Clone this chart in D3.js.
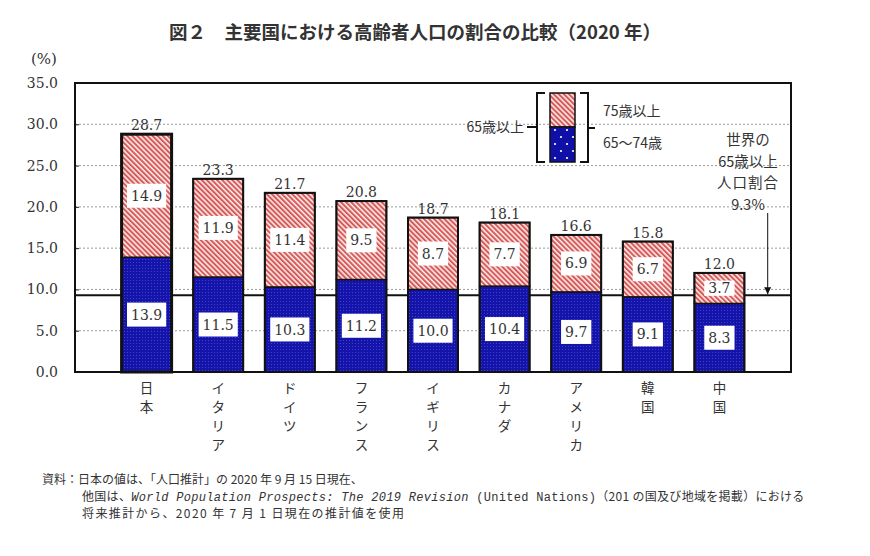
<!DOCTYPE html>
<html>
<head>
<meta charset="utf-8">
<style>
  body { margin: 0; background: #fff; }
  svg text { fill: #222; }
  .jp { font-family: "Noto Sans CJK JP", sans-serif; }
  .num { font-family: "DejaVu Serif", serif; }
  .mono { font-family: "Liberation Mono", "DejaVu Sans Mono", monospace; }
</style>
</head>
<body>
<svg width="870" height="556"></svg>
<script src="https://cdn.jsdelivr.net/npm/d3@7"></script>
<script>

// data (%)
var countries = ["日本", "イタリア", "ドイツ", "フランス", "イギリス", "カナダ", "アメリカ", "韓国", "中国"];
var age65to74 = [13.9, 11.5, 10.3, 11.2, 10.0, 10.4, 9.7, 9.1, 8.3];
var age75plus = [14.9, 11.9, 11.4, 9.5, 8.7, 7.7, 6.9, 6.7, 3.7];
var totals = [28.7, 23.3, 21.7, 20.8, 18.7, 18.1, 16.6, 15.8, 12.0];
var yTicks = [0, 5, 10, 15, 20, 25, 30, 35];
var worldShare = 9.3;
var worldLines = ["世界の", "65歳以上", "人口割合", "9.3%"];
var legendLabels = ["75歳以上", "65～74歳"];

var svg = d3.select("svg"),
    plotL = 75, plotR = 791, plotT = 83, plotB = 372,
    barW = 50;

var x = d3.scalePoint().domain(countries).range([plotL, plotR]).padding(1);
var y = d3.scaleLinear().domain([0, 35]).range([plotB, plotT]);

var data = countries.map(function(c, i) {
  return {name: c, lo: age65to74[i], hi: age75plus[i], total: totals[i], i: i};
});

// patterns
var defs = svg.append("defs");
var hatch = defs.append("pattern").attr("id", "hatch")
    .attr("patternUnits", "userSpaceOnUse").attr("width", 3.6).attr("height", 4)
    .attr("patternTransform", "rotate(-45)");
hatch.append("rect").attr("width", 3.6).attr("height", 4).attr("fill", "#fbeae8");
hatch.append("rect").attr("width", 2).attr("height", 4).attr("fill", "#d65a5a");

var dots = defs.append("pattern").attr("id", "dots")
    .attr("patternUnits", "userSpaceOnUse").attr("width", 3).attr("height", 3);
dots.append("rect").attr("width", 3).attr("height", 3).attr("fill", "#1414aa");
dots.append("rect").attr("x", 1).attr("y", 1).attr("width", 1).attr("height", 1).attr("fill", "#4040c8");

var bigDots = defs.append("pattern").attr("id", "bigdots")
    .attr("patternUnits", "userSpaceOnUse").attr("width", 12).attr("height", 14);
bigDots.append("rect").attr("width", 12).attr("height", 14).attr("fill", "#1010a8");
bigDots.append("circle").attr("cx", 3).attr("cy", 4).attr("r", 1.1).attr("fill", "#fff");
bigDots.append("circle").attr("cx", 9).attr("cy", 11).attr("r", 1.1).attr("fill", "#fff");

// title
svg.append("text").attr("class", "jp")
    .attr("x", 415).attr("y", 39)
    .attr("text-anchor", "middle")
    .style("font-size", "18.5px").style("font-weight", 700).style("fill", "#333")
    .text("図２　主要国における高齢者人口の割合の比較（2020 年）");

// gridlines
svg.append("g").selectAll("line")
  .data(yTicks.filter(function(d) { return d > 0 && d < 35; }))
  .enter().append("line")
    .attr("x1", plotL).attr("x2", plotR)
    .attr("y1", function(d) { return y(d); }).attr("y2", function(d) { return y(d); })
    .attr("stroke", "#9a9a9a").attr("stroke-dasharray", "2,2");

// world average line (behind bars)
svg.append("line")
    .attr("x1", plotL).attr("x2", plotR)
    .attr("y1", y(worldShare)).attr("y2", y(worldShare))
    .attr("stroke", "#111").attr("stroke-width", 2);

// y axis
var yAxis = svg.append("g")
    .attr("transform", "translate(" + plotL + ",0)")
    .call(d3.axisLeft(y).tickValues(yTicks).tickFormat(d3.format(".1f"))
      .tickSizeInner(-4).tickSizeOuter(0).tickPadding(17));
yAxis.select(".domain").remove();
yAxis.selectAll("line").attr("stroke", "#222");
yAxis.selectAll("text").attr("class", "num").style("font-size", "14px").style("fill", "#333");

svg.append("text").attr("class", "num")
    .attr("x", 44).attr("y", 64).attr("text-anchor", "middle")
    .style("font-size", "15px").style("fill", "#333")
    .text("(%)");

// bars
var bar = svg.append("g").selectAll("g")
  .data(data).enter().append("g");

bar.append("rect")
    .attr("x", function(d) { return x(d.name) - barW / 2; })
    .attr("y", function(d) { return y(d.lo); })
    .attr("width", barW)
    .attr("height", function(d) { return y(0) - y(d.lo); })
    .attr("fill", "url(#dots)")
    .attr("stroke", "#111").attr("stroke-width", 1.5);

bar.append("rect")
    .attr("x", function(d) { return x(d.name) - barW / 2; })
    .attr("y", function(d) { return y(d.lo + d.hi); })
    .attr("width", barW)
    .attr("height", function(d) { return y(d.lo) - y(d.lo + d.hi); })
    .attr("fill", "url(#hatch)")
    .attr("stroke", "#111").attr("stroke-width", 1.5);

bar.append("rect")
    .attr("x", function(d) { return x(d.name) - barW / 2; })
    .attr("y", function(d) { return y(d.lo + d.hi); })
    .attr("width", barW)
    .attr("height", function(d) { return y(0) - y(d.lo + d.hi); })
    .attr("fill", "none")
    .attr("stroke", "#111").attr("stroke-width", function(d) { return d.i === 0 ? 3 : 2; });

// segment value boxes
function boxLabel(sel, val, lo, hi) {
  sel.each(function(d) {
    var g = d3.select(this),
        cy = (y(lo(d)) + y(hi(d))) / 2,
        segH = y(lo(d)) - y(hi(d)),
        bh = Math.min(24, segH * 0.5);
    var r = g.append("rect").attr("fill", "#fff");
    var t = g.append("text").attr("class", "num")
        .attr("x", x(d.name)).attr("y", cy).attr("dy", "0.36em")
        .attr("text-anchor", "middle").style("font-size", "14px").style("fill", "#333")
        .text(val(d).toFixed(1));
    var w = t.node().getComputedTextLength() + 8;
    r.attr("x", x(d.name) - w / 2).attr("y", cy - bh / 2).attr("width", w).attr("height", bh);
  });
}
boxLabel(bar, function(d) { return d.lo; }, function(d) { return 0; }, function(d) { return d.lo; });
boxLabel(bar, function(d) { return d.hi; }, function(d) { return d.lo; }, function(d) { return d.lo + d.hi; });

// totals above bars
bar.append("text").attr("class", "num")
    .attr("x", function(d) { return x(d.name); })
    .attr("y", function(d) { return y(d.lo + d.hi) - 4; })
    .attr("text-anchor", "middle").style("font-size", "14px").style("fill", "#333")
    .text(function(d) { return d.total.toFixed(1); });

// plot frame
svg.append("rect")
    .attr("x", plotL).attr("y", plotT).attr("width", plotR - plotL).attr("height", plotB - plotT)
    .attr("fill", "none").attr("stroke", "#111").attr("stroke-width", 2);

// vertical category labels
svg.append("g").selectAll("text")
  .data(data).enter().append("text").attr("class", "jp")
    .attr("text-anchor", "middle").style("font-size", "13.5px").style("fill", "#333")
  .selectAll("tspan")
  .data(function(d) { return d.name.split("").map(function(ch, k) { return {ch: ch, k: k, name: d.name}; }); })
  .enter().append("tspan")
    .attr("x", function(d) { return x(d.name); })
    .attr("y", function(d) { return 393 + d.k * 19; })
    .text(function(d) { return d.ch; });

// world share note and arrow
defs.append("marker").attr("id", "arrow")
    .attr("viewBox", "0 0 10 10").attr("refX", 10).attr("refY", 5)
    .attr("markerWidth", 7).attr("markerHeight", 7).attr("markerUnits", "userSpaceOnUse")
    .attr("orient", "auto")
  .append("path").attr("d", "M0,0L10,5L0,10z").attr("fill", "#111");

var arrowX = (x(countries[countries.length - 1]) + barW / 2 + plotR) / 2;
svg.append("line")
    .attr("x1", arrowX).attr("x2", arrowX)
    .attr("y1", 213).attr("y2", y(worldShare) - 1)
    .attr("stroke", "#111").attr("stroke-width", 1)
    .attr("marker-end", "url(#arrow)");

svg.append("g").selectAll("text")
  .data(worldLines).enter().append("text").attr("class", "jp")
    .attr("x", 748).attr("y", function(d, i) { return 145 + i * 21.5; })
    .attr("text-anchor", "middle").style("font-size", "14.5px").style("fill", "#333")
    .style("letter-spacing", function(d, i) { return i === 2 ? "1px" : "0px"; })
    .text(function(d) { return d; });

// legend
var lg = svg.append("g");
var lTop = 93, lMid = 127, lBot = 162, lx = 550, lw = 25;
lg.append("rect").attr("x", lx).attr("y", lTop).attr("width", lw).attr("height", lMid - lTop)
    .attr("fill", "url(#hatch)").attr("stroke", "#111").attr("stroke-width", 1.5);
lg.append("rect").attr("x", lx).attr("y", lMid).attr("width", lw).attr("height", lBot - lMid)
    .attr("fill", "url(#bigdots)").attr("stroke", "#111").attr("stroke-width", 1.5);
// brackets
lg.append("path")
    .attr("d", "M545," + lTop + "H537V" + lBot + "H545M537," + lMid + "H527")
    .attr("fill", "none").attr("stroke", "#111").attr("stroke-width", 2);
lg.append("path")
    .attr("d", "M580," + lTop + "H588V" + lBot + "H580M588," + (lMid + 1) + "H595")
    .attr("fill", "none").attr("stroke", "#111").attr("stroke-width", 2);
lg.append("text").attr("class", "jp")
    .attr("x", 524).attr("y", lMid).attr("dy", "0.35em").attr("text-anchor", "end")
    .style("font-size", "14px").style("fill", "#333").text("65歳以上");
lg.selectAll(".ll").data(legendLabels).enter().append("text").attr("class", "jp")
    .attr("x", 603).attr("y", function(d, i) { return i === 0 ? 111 : 143; }).attr("dy", "0.35em")
    .style("font-size", "14px").style("fill", "#333").text(function(d) { return d; });

// source note
var note = svg.append("g").attr("class", "jp").style("font-size", "12px");
note.append("text").attr("x", 42).attr("y", 484).style("fill", "#333")
    .text("資料：日本の値は、「人口推計」の 2020 年 9 月 15 日現在、");
var l2 = note.append("text").attr("x", 82).attr("y", 501).style("fill", "#333")
    .style("letter-spacing", "0.3px");
l2.append("tspan").text("他国は、");
l2.append("tspan").attr("class", "mono").style("font-style", "italic").style("font-size", "12px")
    .text("World Population Prospects: The 2019 Revision");
l2.append("tspan").attr("class", "mono").style("font-size", "12px").text(" (United Nations)");
l2.append("tspan").text("（201 の国及び地域を掲載）における");
note.append("text").attr("x", 82).attr("y", 518).style("fill", "#333")
    .style("letter-spacing", "1.4px")
    .text("将来推計から、2020 年 7 月 1 日現在の推計値を使用");

</script>
</body>
</html>
